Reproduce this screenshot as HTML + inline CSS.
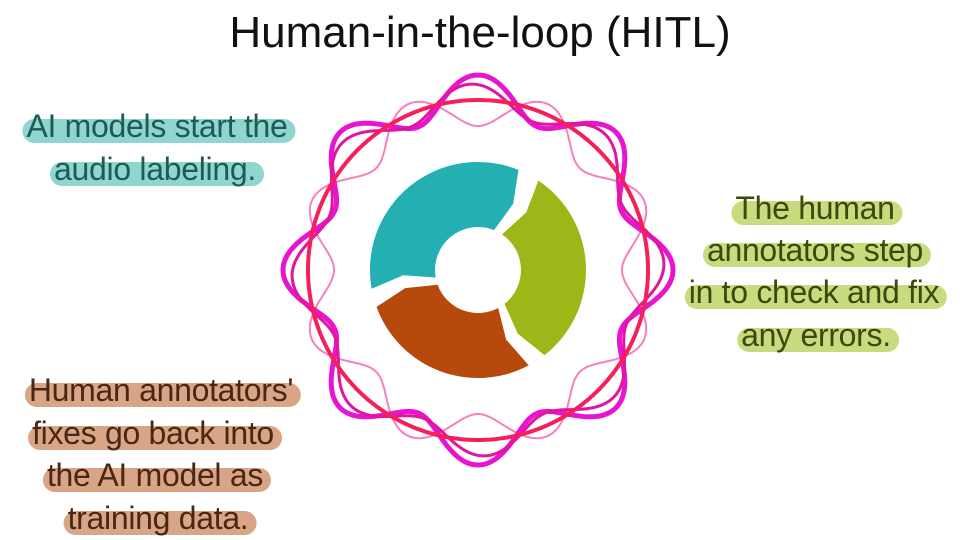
<!DOCTYPE html>
<html><head><meta charset="utf-8"><style>
html,body{margin:0;padding:0;background:#fff}
#c{position:relative;width:960px;height:540px;overflow:hidden;font-family:"Liberation Sans",sans-serif}
.t{position:absolute;white-space:nowrap;font-size:32px;line-height:38px;transform:translateX(-50%);letter-spacing:-0.3px}
.t span{position:relative;z-index:1}
.t:before{content:"";position:absolute;left:-4px;right:-8px;top:12px;bottom:2px;border-radius:12px;background:var(--h);z-index:0}
.a{color:#1d5b56;--h:#8fd5d0}
.g{color:#3b4a0c;--h:#c8dc7f}
.b{color:#4a2613;--h:#d8a686}
</style></head><body><div id="c">
<div style="position:absolute;left:0;width:960px;top:8px;text-align:center;font-size:44px;color:#111">Human-in-the-loop (HITL)</div>
<svg id="s" width="960" height="540" style="position:absolute;left:0;top:0">
<g id="d"></g>
</svg>
<div class="t a" style="left:157px;top:107px"><span>AI models start the</span></div>
<div class="t a" style="left:155px;top:150px"><span>audio labeling.</span></div>
<div class="t g" style="left:815px;top:189px"><span>The human</span></div>
<div class="t g" style="left:815px;top:231px"><span>annotators step</span></div>
<div class="t g" style="left:814px;top:273px"><span>in to check and fix</span></div>
<div class="t g" style="left:816px;top:316px"><span>any errors.</span></div>
<div class="t b" style="left:161px;top:371px"><span>Human annotators'</span></div>
<div class="t b" style="left:153px;top:414px"><span>fixes go back into</span></div>
<div class="t b" style="left:155px;top:456px"><span>the AI model as</span></div>
<div class="t b" style="left:158px;top:499px"><span>training data.</span></div>
</div>
<script>
var cx=478,cy=270,g=document.getElementById('d'),ns='http://www.w3.org/2000/svg';
function wave(R,A,ph,col,w){var p='';for(var i=0;i<=720;i++){var t=i/720*2*Math.PI;var r=R+A*Math.cos(8*t+ph);var x=cx+r*Math.sin(t),y=cy-r*Math.cos(t);p+=(i?'L':'M')+x.toFixed(1)+' '+y.toFixed(1);}
var e=document.createElementNS(ns,'path');e.setAttribute('d',p);e.setAttribute('fill','none');e.setAttribute('stroke',col);e.setAttribute('stroke-width',w);g.appendChild(e);}
wave(162,18,Math.PI,'#f77fc0',2);
wave(175,20,0,'#e815d0',5);
wave(172,14,0.3,'#e0169c',3);
wave(170,0,0,'#f5205a',4);
function pt(r,a){a=a*Math.PI/180;return (cx+r*Math.cos(a)).toFixed(1)+' '+(cy+r*Math.sin(a)).toFixed(1);}
function seg(a0,a1,col){var R=108,r=43;var large=(a1-a0)>180?1:0;
var d='M'+pt(R,a0)+'A'+R+' '+R+' 0 '+large+' 1 '+pt(R,a1)+'L'+pt(75,a1+6)+'L'+pt(r,a1)+'A'+r+' '+r+' 0 '+large+' 0 '+pt(r,a0)+'L'+pt(75,a0+6)+'Z';
var e=document.createElementNS(ns,'path');e.setAttribute('d',d);e.setAttribute('fill',col);g.appendChild(e);}
seg(170,292,'#24b0b3');
seg(304,412,'#9eb617');
seg(62,160,'#b54a0c');
</script>
</body></html>
